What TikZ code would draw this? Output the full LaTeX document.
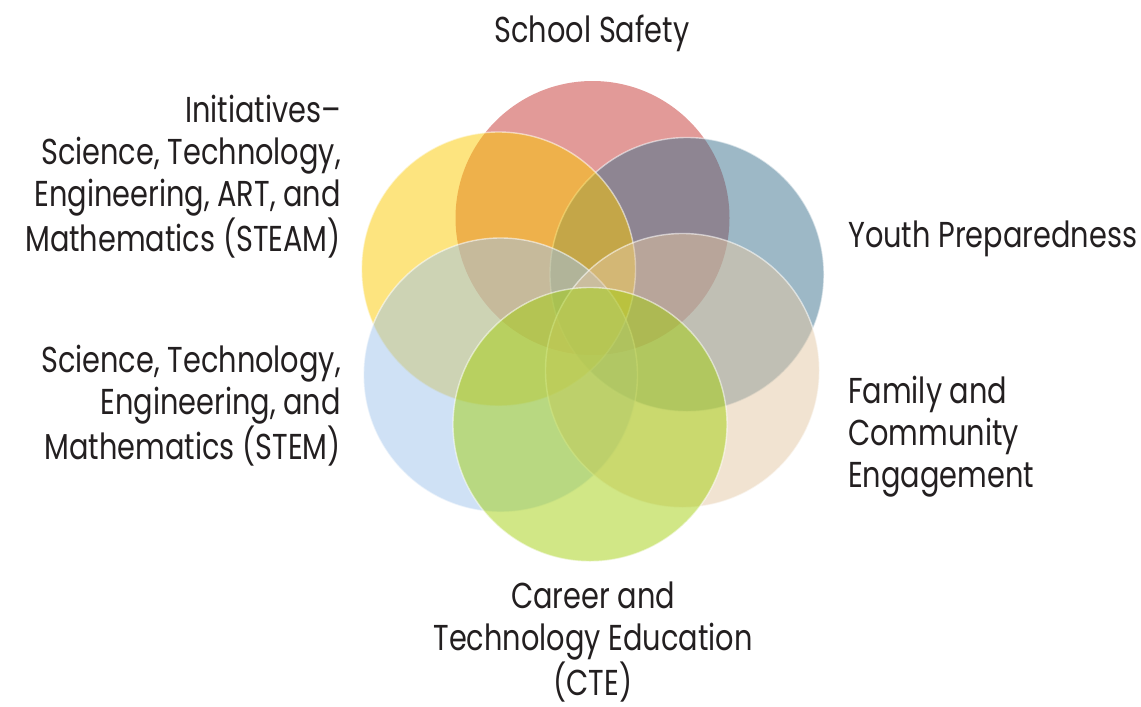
\documentclass[tikz,border=0pt]{standalone}
\usepackage{fontspec}
\setmainfont{Poppins}[FakeStretch=0.8]
\definecolor{cred}{RGB}{197,53,49}
\definecolor{cyellow}{RGB}{251,201,0}
\definecolor{cblue}{RGB}{59,113,141}
\definecolor{cbeige}{RGB}{227,199,163}
\definecolor{cgreen}{RGB}{163,207,13}
\definecolor{clblue}{RGB}{159,195,235}
\definecolor{txt}{RGB}{35,31,32}
\begin{document}
\begin{tikzpicture}[x=1pt,y=-1pt,
  petal/.style={fill opacity=0.5, draw=white, draw opacity=0.55, line width=1.4pt},
  lbl/.style={text=txt, inner sep=0pt, font=\fontsize{36}{42}\selectfont}]
\useasboundingbox (0,0) rectangle (1141,707);
\fill[cred, fill opacity=0.5] (592.5,218) circle[radius=137];
\path[petal, fill=cblue] (687,274.5) circle[radius=137];
\path[petal, fill=cyellow] (498.5,269) circle[radius=137];
\path[petal, fill=clblue] (500.5,375) circle[radius=137];
\path[petal, fill=cbeige] (682.5,370.5) circle[radius=137];
\path[petal, fill=cgreen] (590,424.5) circle[radius=137];
\node[lbl, anchor=base] (safety) at (592,42) {School Safety};
\node[lbl, anchor=base west] (youth) at (848,247) {Youth Preparedness};
\node[lbl, anchor=base west, align=left] (family) at (848,487) {Family and\\Community\\Engagement};
\node[lbl, anchor=base east, align=right] (steam) at (341,251) {Initiatives--\\Science, Technology,\\Engineering, ART, and\\Mathematics (STEAM)};
\node[lbl, anchor=base east, align=right] (stem) at (341,459) {Science, Technology,\\Engineering, and\\Mathematics (STEM)};
\node[lbl, anchor=base, align=center] (cte) at (593,695) {Career and\\Technology Education\\(CTE)};
\end{tikzpicture}
\end{document}
